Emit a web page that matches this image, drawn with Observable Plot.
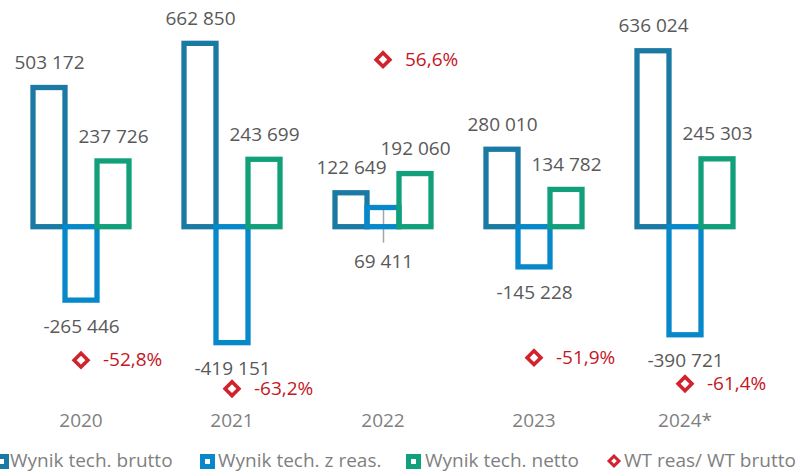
<!DOCTYPE html>
<html>
<head>
<meta charset="utf-8">
<script src="https://cdn.jsdelivr.net/npm/d3@7"></script>
<script src="https://cdn.jsdelivr.net/npm/@observablehq/plot@0.6"></script>
<style>
  html, body { margin: 0; padding: 0; background: #fff; overflow: hidden; }
  body { font-family: "Open Sans", sans-serif; width: 800px; height: 473px; }
  #chart svg { display: block; }
  #legend { position: relative; width: 800px; height: 33px; font-size: 19px; color: #7f7f7f; }
  #legend .mk { position: absolute; top: 14px; width: 15px; height: 15px; box-sizing: border-box; border: 5px solid; background: #fff; }
  #legend .dm { position: absolute; top: 16px; width: 10px; height: 10px; box-sizing: border-box; border: 3.5px solid; background: #fff; transform: rotate(45deg); }
  #legend .tx { position: absolute; top: 11px; line-height: 19px; white-space: nowrap; }
</style>
</head>
<body>
<div id="chart"></div>
<div id="legend"></div>
<script>
// ---- data ----
const years = ["2020", "2021", "2022", "2023", "2024*"];
const seriesNames = ["Wynik tech. brutto", "Wynik tech. z reas.", "Wynik tech. netto"];
const brutto = [503172, 662850, 122649, 280010, 636024];
const zReas  = [-265446, -419151, 69411, -145228, -390721];
const netto  = [237726, 243699, 192060, 134782, 245303];
const ratioName = "WT reas/ WT brutto";
const ratio = [-52.8, -63.2, 56.6, -51.9, -61.4];
// label drawn below zero with a leader line (small positive bar)
const calloutLabels = [{year: "2022", series: "Wynik tech. z reas."}];

// ---- styles ----
const seriesColors = ["#1b7aa4", "#0788c9", "#11a07a"];
const ratioColor = "#d1232e";
const ratioTextColor = "#c4161f";

// ---- build rows ----
const seriesValues = [brutto, zReas, netto];
const rows = [];
years.forEach((yr, i) => {
  seriesNames.forEach((s, j) => {
    const callout = calloutLabels.some(c => c.year === yr && c.series === s);
    rows.push({year: yr, series: s, value: seriesValues[j][i], callout});
  });
});
const ratioRows = years.map((yr, i) => ({year: yr, ratio: ratio[i]}));

const loc = d3.formatLocale({decimal: ",", thousands: " ", grouping: [3], currency: ["", ""], minus: "-"});
const fmtN = loc.format(",d");
const fmtP = v => loc.format(".1f")(v) + "%";

// primary axis domain and secondary (percent) axis mapped onto it
const yDomain = [-626480, 819520];
const y2 = d3.scaleLinear().domain([-67.49, 78.13]).range(yDomain);

const labelFont = {fontSize: 19, fill: "#595959", fontFamily: "Open Sans"};

const chart = Plot.plot({
  width: 800,
  height: 440,
  marginTop: 0,
  marginBottom: 40,
  marginLeft: 31,
  marginRight: 65,
  style: {fontFamily: "Open Sans", fontSize: "19px", color: "#7f7f7f", background: "#fff"},
  fx: {domain: years, paddingInner: 0.357, paddingOuter: 0, label: null, axis: "bottom", tickSize: 0, tickPadding: 13},
  x: {domain: seriesNames, padding: 0, axis: null},
  y: {domain: yDomain, axis: null},
  color: {domain: seriesNames, range: seriesColors, legend: false},
  marks: [
    Plot.ruleX(rows.filter(d => d.callout), {fx: "year", x: "series", y1: "value", y2: 0, insetBottom: -16, stroke: "#a6a6a6", strokeWidth: 1.5}),
    Plot.barY(rows, {fx: "year", x: "series", y: "value", fill: "none", stroke: "series", strokeWidth: 5.3, inset: 0}),
    Plot.text(rows.filter(d => !d.callout && d.value >= 0), {fx: "year", x: "series", y: "value", text: d => fmtN(d.value), dy: -25, ...labelFont}),
    Plot.text(rows.filter(d => !d.callout && d.value < 0), {fx: "year", x: "series", y: "value", text: d => fmtN(d.value), dy: 26, ...labelFont}),
    Plot.text(rows.filter(d => d.callout), {fx: "year", x: "series", y: d => 0, text: d => fmtN(d.value), dy: 35, ...labelFont}),
    Plot.dot(ratioRows, {fx: "year", y: d => y2(d.ratio), symbol: "diamond2", r: 6.2, stroke: ratioColor, strokeWidth: 3.6, fill: "#fff"}),
    Plot.text(ratioRows, {fx: "year", y: d => y2(d.ratio), text: d => fmtP(d.ratio), dx: 22, textAnchor: "start", fontSize: 19, fill: ratioTextColor, fontFamily: "Open Sans"})
  ]
});
document.getElementById("chart").appendChild(chart);

// ---- legend ----
const legend = document.getElementById("legend");
const legendItems = [
  {label: seriesNames[0], color: seriesColors[0], type: "sq", mk: -6, tx: 10},
  {label: seriesNames[1], color: seriesColors[1], type: "sq", mk: 200, tx: 218},
  {label: seriesNames[2], color: seriesColors[2], type: "sq", mk: 406, tx: 425},
  {label: ratioName, color: ratioColor, type: "dm", mk: 609, tx: 624}
];
legendItems.forEach(it => {
  const m = document.createElement("div");
  m.className = it.type === "sq" ? "mk" : "dm";
  m.style.left = it.mk + "px";
  m.style.borderColor = it.color;
  legend.appendChild(m);
  const t = document.createElement("div");
  t.className = "tx";
  t.style.left = it.tx + "px";
  t.textContent = it.label;
  legend.appendChild(t);
});
</script>
</body>
</html>
